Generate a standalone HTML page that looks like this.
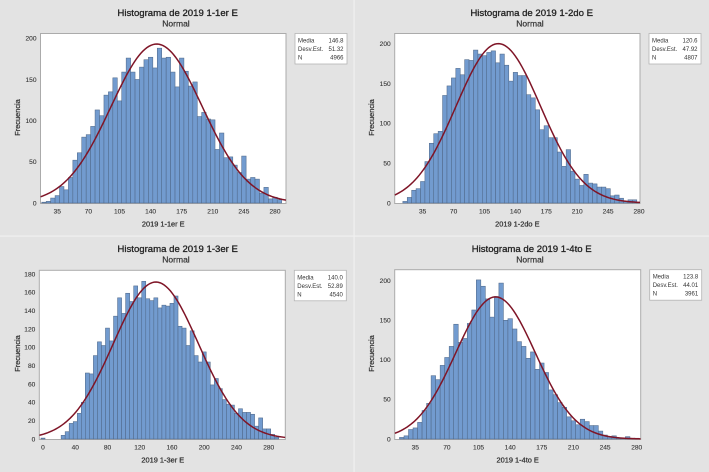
<!DOCTYPE html>
<html lang="es">
<head>
<meta charset="utf-8">
<title>Histogramas 2019</title>
<style>
html,body{margin:0;padding:0;background:#e3e3e3;}
svg{display:block;font-family:"Liberation Sans",sans-serif;}
.title{font-size:9.6px;fill:#222;stroke:#222;stroke-width:0.3px;text-anchor:middle;}
.sub{font-size:8.5px;fill:#333;stroke:#333;stroke-width:0.2px;text-anchor:middle;}
.tick{font-size:6.6px;fill:#333;stroke:#333;stroke-width:0.1px;}
.axis{font-size:7.4px;fill:#333;stroke:#333;stroke-width:0.25px;text-anchor:middle;}
.stat{font-size:6px;fill:#333;}
</style>
</head>
<body>
<svg id="root" width="709" height="472" viewBox="0 0 709 472" xmlns="http://www.w3.org/2000/svg">
<rect x="0" y="0" width="709" height="472" fill="#e3e3e3"/>
<rect x="353.5" y="0" width="1.2" height="472" fill="#f0f0f0"/>
<rect x="0" y="235.5" width="709" height="1.2" fill="#f0f0f0"/>
</svg>
<script>
// Data: counts per 5-unit bin, bin centre of first bar, tick labels, printed statistics.
const binWidth = 5;

const titles = ["Histograma de 2019 1-1er E","Histograma de 2019 1-2do E","Histograma de 2019 1-3er E","Histograma de 2019 1-4to E"];
const xTitles = ["2019 1-1er E","2019 1-2do E","2019 1-3er E","2019 1-4to E"];

const firstBin = [20, 15, 0, 20];

const counts1 = [1,2,6,9,20,16,31,52,61,80,83,93,113,106,131,135,152,124,159,176,159,150,165,174,177,164,188,176,177,159,141,176,160,142,147,105,110,102,101,65,85,55,56,46,37,57,29,31,29,12,19,5,7,4];
const counts2 = [2,7,16,18,27,52,75,87,90,135,147,157,169,161,180,179,192,187,185,189,191,176,187,173,153,164,160,160,136,132,117,92,97,82,82,64,46,67,40,30,22,36,25,24,20,20,18,9,10,6,2,4,4,1];
const counts3 = [1,0,0,0,0,4,8,17,19,28,40,72,71,91,106,102,121,107,134,154,137,159,150,167,154,172,153,151,154,143,146,145,148,156,123,121,102,118,91,84,95,84,59,66,55,43,38,37,28,33,29,29,27,14,23,11,11,5,2];
const counts4 = [2,4,12,14,21,36,45,80,75,93,103,117,145,122,127,146,163,201,193,177,154,180,197,150,152,139,123,117,102,110,88,96,84,62,56,46,40,28,23,18,25,22,17,17,10,5,3,4,1,1,3,1,1];
const seriesCounts = [counts1, counts2, counts3, counts4];

const xTicks1 = [35,70,105,140,175,210,245,280];
const xTicks3 = [0,40,80,120,160,200,240,280];
const xTickSets = [xTicks1, xTicks1, xTicks3, xTicks1];

const yTicks1 = [0,50,100,150,200];
const yTicks3 = [0,20,40,60,80,100,120,140,160,180];
const yTickSets = [yTicks1, yTicks1, yTicks3, yTicks1];

const means = [146.8, 120.6, 140.0, 123.8];
const stdDevs = [51.32, 47.92, 52.89, 44.01];
const sampleSizes = [4966, 4807, 4540, 3961];

// Layout only (pixel geometry of each panel), separate from the data.
const layouts = [
  {ox:0,  oy:0,  left:40.5, right:286, top:33.5, base:203, xa:35, xpa:57.3, xb:280, xpb:275, ya:200, ypa:38.3},
  {ox:354,oy:0,  left:394.7,right:640, top:33.5, base:203, xa:35, xpa:422.7,xb:280, xpb:639, ya:200, ypa:43.7},
  {ox:0,  oy:236,left:39.3, right:285.3,top:270.3,base:439, xa:0, xpa:43,  xb:280, xpb:268.7,ya:180, ypa:274},
  {ox:354,oy:236,left:394.7,right:640.7,top:269.7,base:439, xa:35, xpa:415.3,xb:280, xpb:636.7,ya:200, ypa:280.7}
];

const SVGNS = "http://www.w3.org/2000/svg";
const root = document.getElementById("root");

function add(parent, tag, attrs, text) {
  const el = document.createElementNS(SVGNS, tag);
  for (const k in attrs) el.setAttribute(k, attrs[k]);
  if (text !== undefined) el.textContent = text;
  parent.appendChild(el);
  return el;
}

function normalHeight(v, mean, sd, n) {
  const z = (v - mean) / sd;
  return n * binWidth * Math.exp(-0.5 * z * z) / (sd * Math.sqrt(2 * Math.PI));
}

function drawPanel(i) {
  const L = layouts[i];
  const xScale = v => L.xpa + (v - L.xa) * (L.xpb - L.xpa) / (L.xb - L.xa);
  const yScale = v => L.base - v * (L.base - L.ypa) / L.ya;

  const g = add(root, "g", {});
  
  

  const titleEl = add(g, "text", {class:"title", x:L.ox+177.7, y:L.oy+16}, titles[i]);
  
  

  const subEl = add(g, "text", {class:"sub", x:L.ox+176, y:L.oy+26.5}, "Normal");
  
  

  const frame = add(g, "rect", {x:L.left, y:L.top, width:L.right-L.left, height:L.base+0.5-L.top, fill:"#ffffff", stroke:"#ababab", "stroke-width":1});
  
  

  const clipId = "clip" + i;
  const defs = add(g, "defs", {});
  const clip = add(defs, "clipPath", {id:clipId});
  add(clip, "rect", {x:L.left, y:L.top, width:L.right-L.left, height:L.base+1-L.top});

  const bars = add(g, "g", {"clip-path":"url(#"+clipId+")"});
  
  
  seriesCounts[i].forEach((c, k) => {
    const centre = firstBin[i] + k * binWidth;
    const x0 = xScale(centre - binWidth / 2);
    const x1 = xScale(centre + binWidth / 2);
    const y = yScale(c);
    const bar = add(bars, "rect", {x:x0, y:y, width:x1-x0, height:L.base-y, fill:"#729bcf", stroke:"#50698a", "stroke-width":0.55});
    
    
  });

  // Fitted normal curve, derived from the printed mean, std dev and N.
  const vMin = L.xa + (L.left - L.xpa) * (L.xb - L.xa) / (L.xpb - L.xpa);
  const vMax = L.xa + (L.right - L.xpa) * (L.xb - L.xa) / (L.xpb - L.xpa);
  let d = "";
  for (let s = 0; s <= 120; s++) {
    const v = vMin + (vMax - vMin) * s / 120;
    d += (s ? "L" : "M") + xScale(v).toFixed(2) + " " + yScale(normalHeight(v, means[i], stdDevs[i], sampleSizes[i])).toFixed(2);
  }
  const curve = add(g, "path", {d:d, fill:"none", stroke:"#7f1527", "stroke-width":1.5, "clip-path":"url(#"+clipId+")"});
  
  

  xTickSets[i].forEach(t => {
    const lab = add(g, "text", {class:"tick", x:xScale(t), y:L.base+10.3, "text-anchor":"middle"}, t);
    
    
  });
  yTickSets[i].forEach(t => {
    const lab = add(g, "text", {class:"tick", x:L.left-4, y:yScale(t)+2.3, "text-anchor":"end"}, t);
    
    
  });

  const xt = add(g, "text", {class:"axis", x:(L.left+L.right)/2 + (i===2?0.5:0), y:L.oy+226.7}, xTitles[i]);
  
  

  const yx = L.ox + 20, yy = L.oy + 117.5;
  const yt = add(g, "text", {class:"axis", x:yx, y:yy, transform:"rotate(-90 "+yx+" "+yy+")"}, "Frecuencia");
  
  

  const bx = L.right + 9, by = L.top;
  const box = add(g, "rect", {x:bx, y:by, width:52, height:30.5, fill:"#ffffff", stroke:"#b4b4b4", "stroke-width":0.8});
  
  

  const rowLabels = ["Media","Desv.Est.","N"];
  const rowValues = [means[i].toFixed(1), stdDevs[i].toFixed(2), String(sampleSizes[i])];
  rowLabels.forEach((r, k) => {
    const ry = by + 9 + k * 8.5;
    const a = add(g, "text", {class:"stat", x:bx+3, y:ry}, r);
    
    
    const b = add(g, "text", {class:"stat", x:bx+48.5, y:ry, "text-anchor":"end"}, rowValues[k]);
    
    
  });
}

for (let i = 0; i < 4; i++) drawPanel(i);
</script>
</body>
</html>
